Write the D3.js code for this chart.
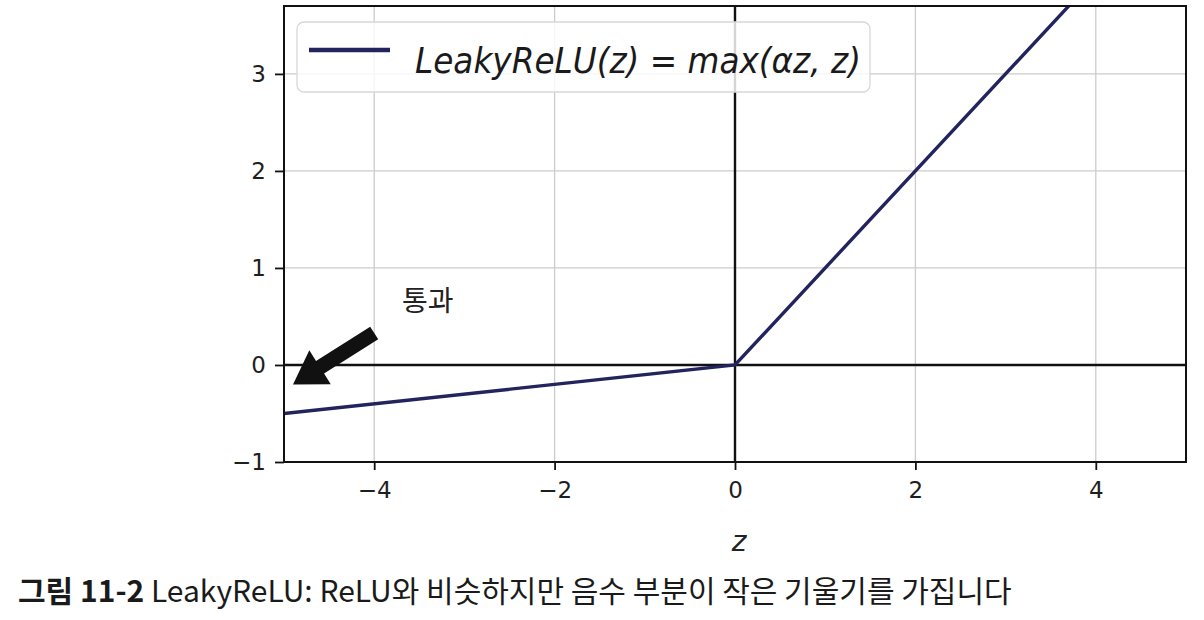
<!DOCTYPE html>
<html><head><meta charset="utf-8">
<script src="https://cdn.jsdelivr.net/npm/d3@7/dist/d3.min.js"></script>
<style>
html,body{margin:0;padding:0;background:#fff;}
svg{display:block;}
</style></head>
<body>
<svg id="chart" width="1204" height="620"></svg>
<script>
// ---- data ----
const zValues = [-5, 0, 5];
const leakyValues = [-0.5, 0, 5];
const xTicks = [-4, -2, 0, 2, 4];
const yTicks = [-1, 0, 1, 2, 3];
const xDomain = [-5, 5];
const yDomain = [-1, 3.7];
const legendLabel = "LeakyReLU(z) = max(αz, z)";
const annotationText = "통과";
const annotationFrom = [-4.0, 0.33];
const annotationTo = [-5, -0.2];
const xLabel = "z";
const captionBold = "그림 11-2";
const captionText = " LeakyReLU: ReLU와 비슷하지만 음수 부분이 작은 기울기를 가집니다";

// ---- layout ----
const svg = d3.select("#chart");
const x = d3.scaleLinear().domain(xDomain).range([284, 1186]);
const y = d3.scaleLinear().domain(yDomain).range([462, 6]);
const navy = "#23235e";
const fmt = d => d < 0 ? "\u2212" + Math.abs(d) : String(d);

svg.append("rect").attr("width",1204).attr("height",620).attr("fill","#fff");

svg.append("defs").append("clipPath").attr("id","plotclip")
  .append("rect").attr("x",x(xDomain[0])).attr("y",y(yDomain[1]))
  .attr("width",x(xDomain[1])-x(xDomain[0])).attr("height",y(yDomain[0])-y(yDomain[1]));

// grid
const g = svg.append("g");
g.selectAll(".gx").data(xTicks).join("line")
  .attr("x1",d=>x(d)).attr("x2",d=>x(d)).attr("y1",y(yDomain[0])).attr("y2",y(yDomain[1]))
  .attr("stroke","#cccccc").attr("stroke-width",1.3);
g.selectAll(".gy").data(yTicks).join("line")
  .attr("y1",d=>y(d)).attr("y2",d=>y(d)).attr("x1",x(xDomain[0])).attr("x2",x(xDomain[1]))
  .attr("stroke","#cccccc").attr("stroke-width",1.3);

// zero axes
g.append("line").attr("x1",x(xDomain[0])).attr("x2",x(xDomain[1])).attr("y1",y(0)).attr("y2",y(0))
  .attr("stroke","#111").attr("stroke-width",2.4);
g.append("line").attr("x1",x(0)).attr("x2",x(0)).attr("y1",y(yDomain[0])).attr("y2",y(yDomain[1]))
  .attr("stroke","#111").attr("stroke-width",2.4);

// leaky relu line
const line = d3.line().x((d,i)=>x(zValues[i])).y(d=>y(d));
svg.append("path").datum(leakyValues).attr("d",line)
  .attr("fill","none").attr("stroke",navy).attr("stroke-width",3.4)
  .attr("clip-path","url(#plotclip)");

// axes
const xAxis = d3.axisBottom(x).tickValues(xTicks).tickFormat(fmt).tickSize(8).tickPadding(12);
const yAxis = d3.axisLeft(y).tickValues(yTicks).tickFormat(fmt).tickSize(9).tickPadding(9);
const ax = svg.append("g").attr("transform",`translate(0,${y(yDomain[0])})`).call(xAxis);
const ay = svg.append("g").attr("transform",`translate(${x(xDomain[0])},0)`).call(yAxis);
[ax, ay].forEach(a => {
  a.select(".domain").remove();
  a.selectAll(".tick line").attr("stroke","#111").attr("stroke-width",1.8);
  a.selectAll(".tick text").attr("fill","#1e1e1e").style("font-family","'DejaVu Sans', sans-serif").style("font-size","23px");
});

// frame
svg.append("rect").attr("x",x(xDomain[0])).attr("y",y(yDomain[1]))
  .attr("width",x(xDomain[1])-x(xDomain[0])).attr("height",y(yDomain[0])-y(yDomain[1]))
  .attr("fill","none").attr("stroke","#111").attr("stroke-width",2);

// legend
const lg = svg.append("g");
lg.append("rect").attr("x",297).attr("y",22).attr("width",573).attr("height",70).attr("rx",7)
  .attr("fill","#fff").attr("fill-opacity",0.82).attr("stroke","#d8d8d8").attr("stroke-width",1.3);
lg.append("line").attr("x1",309).attr("x2",390).attr("y1",50).attr("y2",50)
  .attr("stroke",navy).attr("stroke-width",4.5);
lg.append("text").attr("x",415).attr("y",73).text(legendLabel)
  .attr("textLength",446).attr("lengthAdjust","spacingAndGlyphs")
  .attr("fill","#1a1a1a").style("font-family","'DejaVu Sans', sans-serif").style("font-style","italic").style("font-size","35px");

// annotation arrow
const [fx, fy] = [x(annotationFrom[0]), y(annotationFrom[1])];
const [tx, ty] = [x(annotationTo[0]) + 9, y(annotationTo[1])];
const ang = Math.atan2(ty - fy, tx - fx);
const len = Math.hypot(tx - fx, ty - fy);
const sw = 7.5, hw = 20, hl = 32;
const pts = [[0,-sw],[len-hl,-sw],[len-hl,-hw],[len,0],[len-hl,hw],[len-hl,sw],[0,sw]];
svg.append("polygon")
  .attr("points", pts.map(p=>p.join(",")).join(" "))
  .attr("transform",`translate(${fx},${fy}) rotate(${ang*180/Math.PI})`)
  .attr("fill","#111");
svg.append("text").attr("x",402).attr("y",311).text(annotationText)
  .attr("fill","#222").style("font-family","'Noto Sans CJK KR', sans-serif").style("font-size","28px");

// x label
svg.append("text").attr("x",x(0)+4).attr("y",551).attr("text-anchor","middle").text(xLabel)
  .attr("fill","#222").style("font-family","'DejaVu Sans', sans-serif").style("font-style","italic").style("font-size","28px");

// caption
const cap = svg.append("text").attr("x",18).attr("y",602)
  .style("font-family","'Noto Sans CJK KR', sans-serif").style("font-size","30px").attr("fill","#1a1a1a");
cap.append("tspan").text(captionBold).style("font-weight","700");
cap.append("tspan").text(captionText).style("font-weight","400");
</script>
</body></html>
